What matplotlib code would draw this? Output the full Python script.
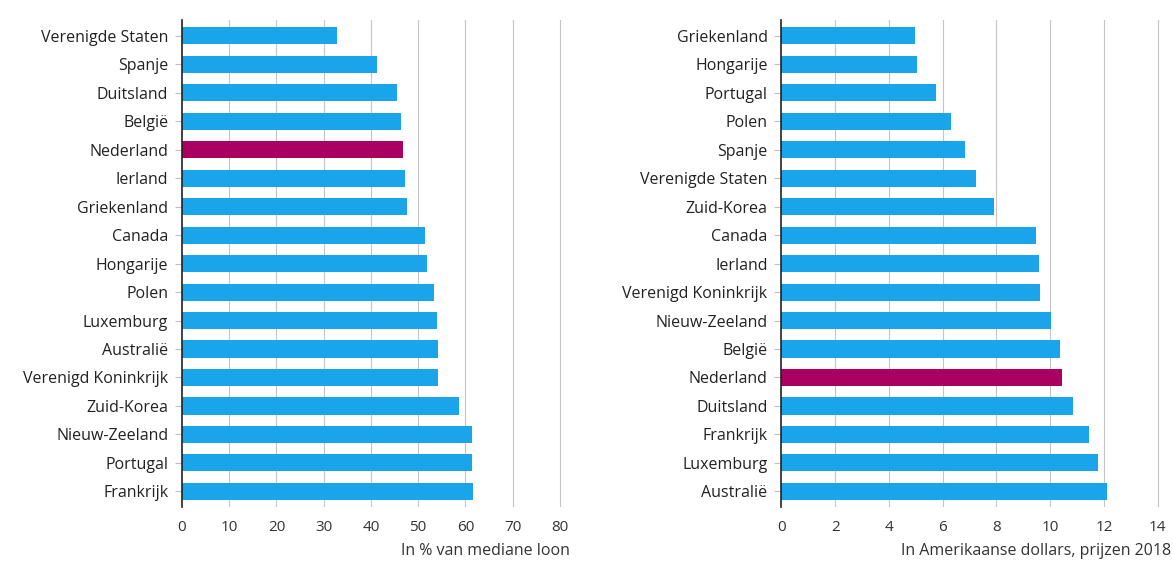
import matplotlib.pyplot as plt
import numpy as np

# linker grafiek: minimumloon in % van mediane loon
landen_links = ['Verenigde Staten', 'Spanje', 'Duitsland', 'België', 'Nederland',
                'Ierland', 'Griekenland', 'Canada', 'Hongarije', 'Polen',
                'Luxemburg', 'Australië', 'Verenigd Koninkrijk', 'Zuid-Korea',
                'Nieuw-Zeeland', 'Portugal', 'Frankrijk']
waarden_links = [32.8, 41.3, 45.5, 46.3, 46.9, 47.3, 47.6, 51.4, 51.9, 53.3,
                 53.9, 54.2, 54.3, 58.6, 61.4, 61.4, 61.6]

# rechter grafiek: in Amerikaanse dollars
landen_rechts = ['Griekenland', 'Hongarije', 'Portugal', 'Polen', 'Spanje',
                 'Verenigde Staten', 'Zuid-Korea', 'Canada', 'Ierland',
                 'Verenigd Koninkrijk', 'Nieuw-Zeeland', 'België', 'Nederland',
                 'Duitsland', 'Frankrijk', 'Luxemburg', 'Australië']
waarden_rechts = [4.97, 5.03, 5.76, 6.31, 6.82, 7.23, 7.92, 9.48, 9.60, 9.62,
                  10.04, 10.36, 10.43, 10.84, 11.45, 11.77, 12.11]

ticks_links = list(range(0, 81, 10))
ticks_rechts = list(range(0, 15, 2))

plt.rcParams['font.family'] = ['Open Sans', 'DejaVu Sans']

blauw = '#1aa5ea'
paars = '#a90061'

fig = plt.figure(figsize=(11.73, 5.74), dpi=100)
ax1 = fig.add_axes([0.1552, 0.1167, 0.324, 0.848])
ax2 = fig.add_axes([0.6662, 0.1167, 0.3231, 0.848])


def teken(ax, landen, waarden, ticks, xmax):
    y = np.arange(len(landen))
    kleuren = [paars if l == 'Nederland' else blauw for l in landen]
    ax.barh(y, waarden, height=0.6, color=kleuren, zorder=3)
    ax.set_ylim(len(landen) - 0.45, -0.55)
    ax.set_xlim(0, xmax)
    ax.set_yticks(y)
    ax.set_yticklabels(landen, fontsize=11.5, color='#222222')
    ax.set_xticks(ticks)
    ax.set_xticklabels([str(t) for t in ticks], fontsize=11, color='#333333')
    ax.tick_params(axis='x', length=0, pad=9)
    ax.tick_params(axis='y', length=5, color='#c0c0c0', pad=5)
    for t in ticks[1:]:
        ax.axvline(t, color='#c4c4c4', linewidth=0.8, zorder=1)
    for s in ['top', 'right', 'bottom']:
        ax.spines[s].set_visible(False)
    ax.spines['left'].set_color('#222222')
    ax.spines['left'].set_linewidth(1.2)
    ax.spines['left'].set_zorder(4)


teken(ax1, landen_links, waarden_links, ticks_links, 80.5)
teken(ax2, landen_rechts, waarden_rechts, ticks_rechts, 14.1)

fig.text(0.486, 0.033, 'In % van mediane loon', ha='right', fontsize=11.5, color='#333333')
fig.text(0.998, 0.033, 'In Amerikaanse dollars, prijzen 2018', ha='right', fontsize=11.5, color='#333333')

fig.savefig('out.png', dpi=100)
